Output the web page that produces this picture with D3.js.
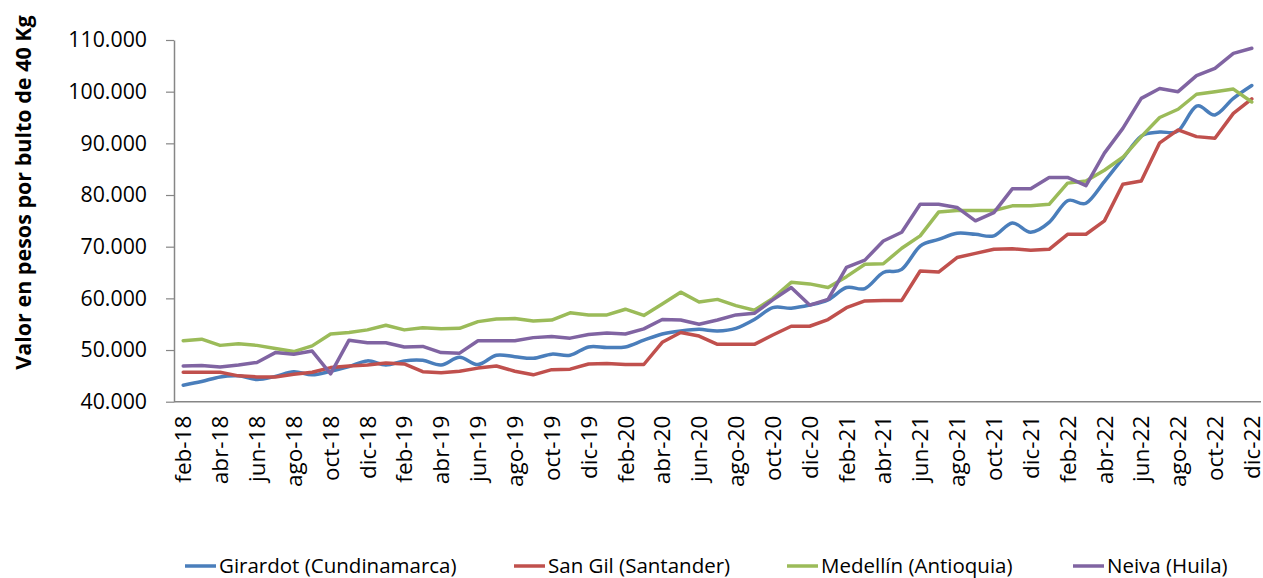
<!DOCTYPE html>
<html>
<head>
<meta charset="utf-8">
<script src="https://cdn.jsdelivr.net/npm/d3@7"></script>
<style>
  body { margin: 0; background: #fff; }
  svg { display: block; }
  text { font-family: "Open Sans", "Noto Sans", sans-serif; fill: #000; }
</style>
</head>
<body>
<svg id="chart" width="1263" height="578"></svg>
<script>
// Monthly categories, feb-18 .. dic-22
const months = [
  "feb-18","mar-18","abr-18","may-18","jun-18","jul-18","ago-18","sep-18","oct-18","nov-18","dic-18",
  "ene-19","feb-19","mar-19","abr-19","may-19","jun-19","jul-19","ago-19","sep-19","oct-19","nov-19","dic-19",
  "ene-20","feb-20","mar-20","abr-20","may-20","jun-20","jul-20","ago-20","sep-20","oct-20","nov-20","dic-20",
  "ene-21","feb-21","mar-21","abr-21","may-21","jun-21","jul-21","ago-21","sep-21","oct-21","nov-21","dic-21",
  "ene-22","feb-22","mar-22","abr-22","may-22","jun-22","jul-22","ago-22","sep-22","oct-22","nov-22","dic-22"
];

// Price per 40 kg bag (COP)
const girardot = [
  43200, 43900, 44800, 45000, 44300, 44900, 45800, 45200, 45900, 46800, 47900,
  47100, 47900, 48000, 47100, 48600, 47200, 49000, 48700, 48400, 49200, 49000, 50600,
  50500, 50600, 51900, 53100, 53700, 54000, 53700, 54200, 55900, 58200, 58100, 58700,
  59700, 62100, 61900, 65000, 65600, 70100, 71400, 72600, 72400, 72100, 74600, 72800,
  74700, 78900, 78400, 82600, 87100, 91400, 92200, 92400, 97200, 95500, 98700, 101200
];
const sanGil = [
  45700, 45700, 45700, 45000, 44800, 44800, 45300, 45700, 46600, 46900, 47100,
  47500, 47300, 45800, 45600, 45900, 46500, 46900, 45900, 45200, 46200, 46300, 47300,
  47400, 47200, 47200, 51500, 53400, 52700, 51100, 51100, 51100, 52900, 54600, 54600,
  55900, 58200, 59500, 59600, 59600, 65300, 65100, 67900, 68700, 69500, 69600, 69300,
  69500, 72400, 72400, 75000, 82100, 82700, 90100, 92600, 91300, 91000, 95800, 98600
];
const medellin = [
  51800, 52100, 50900, 51200, 50900, 50300, 49700, 50800, 53100, 53400, 53900,
  54800, 53900, 54300, 54100, 54200, 55500, 56000, 56100, 55600, 55800, 57200, 56800,
  56800, 57900, 56700, 58900, 61200, 59300, 59800, 58600, 57700, 60000, 63100, 62800,
  62100, 64200, 66600, 66700, 69700, 72100, 76700, 77000, 77000, 77000, 77900, 77900,
  78200, 82300, 82700, 84800, 87300, 91300, 95000, 96600, 99500, 100000, 100500, 98000
];
const neiva = [
  46900, 47000, 46700, 47100, 47600, 49500, 49200, 49800, 45400, 51900, 51400,
  51400, 50600, 50700, 49500, 49400, 51800, 51800, 51800, 52400, 52600, 52300, 53000,
  53300, 53100, 54100, 55900, 55800, 55000, 55800, 56800, 57100, 59700, 62100, 58700,
  59800, 66000, 67400, 71100, 72800, 78200, 78200, 77600, 75000, 76600, 81200, 81200,
  83400, 83400, 81800, 88100, 92900, 98700, 100600, 100000, 103100, 104500, 107400, 108400
];

const seriesNames = ["Girardot (Cundinamarca)", "San Gil (Santander)", "Medellín (Antioquia)", "Neiva (Huila)"];
const seriesColors = ["#4A7EBB", "#C0504D", "#9BBB59", "#8064A2"];
const yTicks = [40000, 50000, 60000, 70000, 80000, 90000, 100000, 110000];
const xTickLabels = months.filter((m, i) => i % 2 === 0);
const yTitle = "Valor en pesos por bulto de 40 Kg";

const series = [girardot, sanGil, medellin, neiva].map((values, k) => ({
  name: seriesNames[k], color: seriesColors[k], values, smooth: k === 0
}));

const svg = d3.select("#chart");
const plot = { left: 174, right: 1261, top: 40, bottom: 401.7 };
const axisColor = "#868686";

const x = d3.scalePoint().domain(months).range([plot.left, plot.right]).padding(0.5);
const y = d3.scaleLinear().domain([40000, 110000]).range([plot.bottom, plot.top]);

const esLocale = d3.formatLocale({ decimal: ",", thousands: ".", grouping: [3], currency: ["$", ""] });
const fmt = esLocale.format(",.0f");

// Y axis
const yAxis = svg.append("g")
  .attr("transform", `translate(${plot.left},0)`)
  .call(d3.axisLeft(y).tickValues(yTicks).tickFormat(fmt).tickSize(8).tickSizeOuter(0).tickPadding(19));
yAxis.select(".domain").attr("stroke", axisColor).attr("stroke-width", 1.5);
yAxis.selectAll(".tick line").attr("stroke", axisColor).attr("stroke-width", 1.2);
yAxis.selectAll(".tick text").attr("font-size", 21.3).attr("fill", "#000")
  .attr("font-family", '"Open Sans", sans-serif');

// X axis
const xAxis = svg.append("g")
  .attr("transform", `translate(0,${plot.bottom})`)
  .call(d3.axisBottom(x).tickValues(xTickLabels).tickSize(0).tickSizeOuter(0));
xAxis.select(".domain")
  .attr("d", `M${plot.left},0H${plot.right}`)
  .attr("stroke", axisColor).attr("stroke-width", 1.5);
xAxis.selectAll(".tick text")
  .attr("font-size", 22.5).attr("fill", "#000")
  .attr("font-family", '"Open Sans", sans-serif')
  .attr("text-anchor", "end")
  .attr("transform", "rotate(-90)")
  .attr("x", -14).attr("y", 0).attr("dy", "0.34em");

// Y axis title
svg.append("text")
  .attr("transform", `translate(23,192.5) rotate(-90)`)
  .attr("text-anchor", "middle")
  .attr("font-size", 21.5).attr("font-weight", "bold")
  .attr("dy", "0.35em")
  .text(yTitle);

// Series lines
const linesG = svg.append("g");
series.forEach(s => {
  const line = d3.line()
    .x((d, i) => x(months[i]))
    .y(d => y(d))
    .curve(s.smooth ? d3.curveCatmullRom.alpha(0) : d3.curveLinear);
  linesG.append("path")
    .datum(s.values)
    .attr("fill", "none")
    .attr("stroke", s.color)
    .attr("stroke-width", 3.5)
    .attr("stroke-linejoin", "round")
    .attr("stroke-linecap", "round")
    .attr("d", line);
});

// Legend: swatch + label per series
const legendX = [185, 514, 787, 1073];
const legend = svg.append("g");
const items = legend.selectAll("g").data(series).join("g")
  .attr("transform", (d, i) => `translate(${legendX[i]},566)`);
items.append("line")
  .attr("x1", 0).attr("x2", 31).attr("y1", 0).attr("y2", 0)
  .attr("stroke", d => d.color).attr("stroke-width", 3.5);
items.append("text")
  .attr("x", 34).attr("dy", "0.35em")
  .attr("font-size", 20.5)
  .text(d => d.name);
</script>
</body>
</html>
